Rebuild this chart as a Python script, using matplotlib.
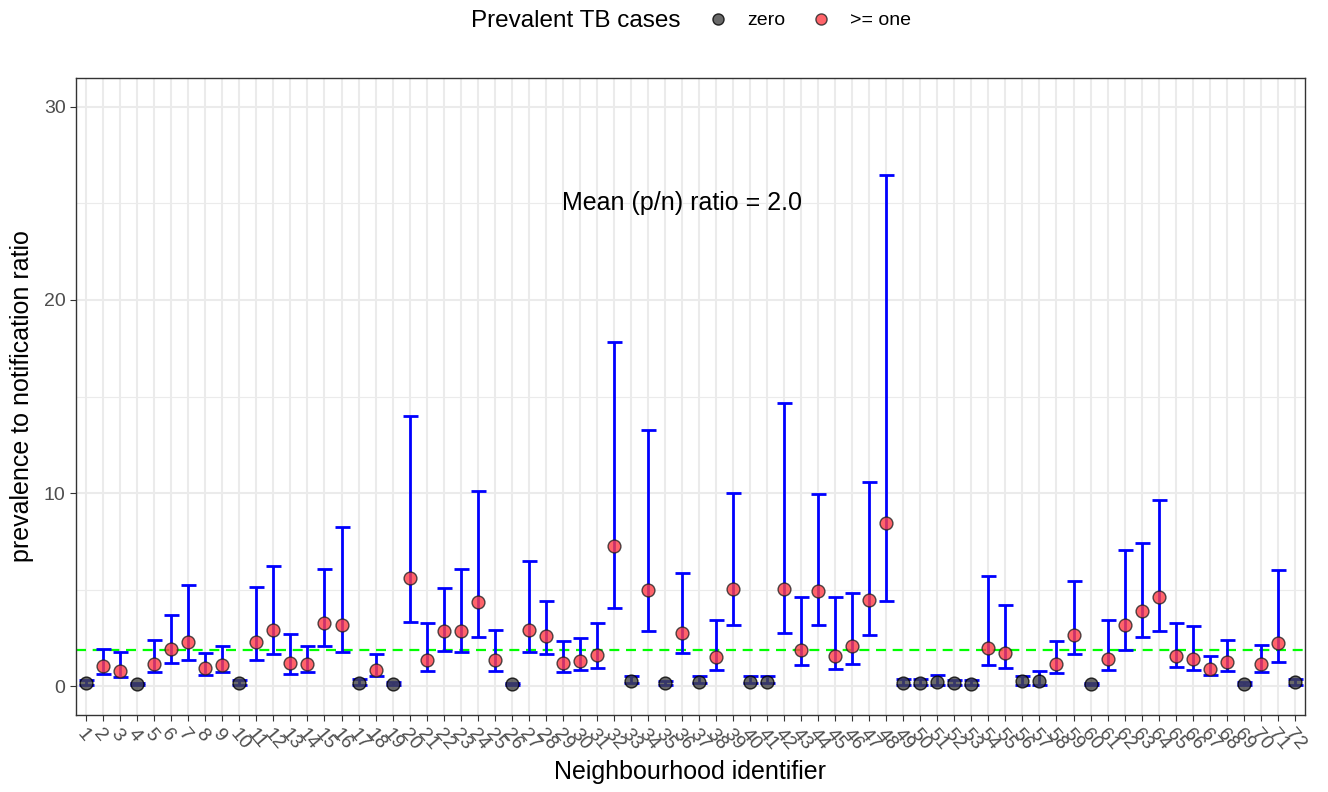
import numpy as np
import matplotlib.pyplot as plt
from matplotlib.lines import Line2D

plt.rcParams['font.family'] = ['Liberation Sans', 'DejaVu Sans']

# neighbourhood ids 1..72
ids = np.arange(1, 73)

# prevalence to notification ratio and its interval
ratio = [0.15, 1.02, 0.79, 0.10, 1.14, 1.91, 2.27, 0.91, 1.10, 0.15,
         2.27, 2.89, 1.17, 1.14, 3.25, 3.15, 0.15, 0.84, 0.10, 5.59,
         1.34, 2.86, 2.86, 4.36, 1.34, 0.12, 2.93, 2.58, 1.21, 1.29,
         1.62, 7.25, 0.24, 4.96, 0.15, 2.77, 0.21, 1.53, 5.05, 0.19,
         0.22, 5.01, 1.89, 4.94, 1.58, 2.07, 4.48, 8.47, 0.15, 0.15,
         0.22, 0.15, 0.12, 1.96, 1.69, 0.24, 0.28, 1.14, 2.65, 0.10,
         1.40, 3.17, 3.91, 4.60, 1.58, 1.40, 0.86, 1.26, 0.12, 1.12,
         2.22, 0.19]
lower = [0.05, 0.64, 0.46, 0.05, 0.71, 1.19, 1.34, 0.55, 0.71, 0.07,
         1.36, 1.67, 0.65, 0.74, 2.07, 1.77, 0.07, 0.50, 0.03, 3.34,
         0.79, 1.84, 1.76, 2.53, 0.78, 0.07, 1.79, 1.67, 0.74, 0.81,
         0.95, 4.05, 0.14, 2.86, 0.07, 1.71, 0.14, 0.84, 3.15, 0.14,
         0.14, 2.77, 1.10, 3.15, 0.88, 1.15, 2.65, 4.39, 0.05, 0.05,
         0.07, 0.07, 0.03, 1.09, 0.93, 0.07, 0.07, 0.69, 1.64, 0.03,
         0.81, 1.89, 2.52, 2.84, 0.98, 0.84, 0.55, 0.79, 0.05, 0.71,
         1.26, 0.07]
upper = [0.31, 1.91, 1.74, 0.15, 2.39, 3.67, 5.23, 1.69, 2.07, 0.30,
         5.13, 6.23, 2.70, 2.05, 6.06, 8.23, 0.38, 1.67, 0.20, 14.0,
         3.27, 5.09, 6.08, 10.1, 2.89, 0.17, 6.48, 4.39, 2.33, 2.50,
         3.29, 17.85, 0.52, 13.24, 0.28, 5.86, 0.50, 3.41, 9.99, 0.50,
         0.53, 14.64, 4.63, 9.97, 4.62, 4.81, 10.59, 26.5, 0.34, 0.34,
         0.57, 0.33, 0.29, 5.68, 4.19, 0.50, 0.76, 2.33, 5.46, 0.15,
         3.41, 7.06, 7.39, 9.66, 3.27, 3.10, 1.57, 2.39, 0.22, 2.14,
         6.01, 0.34]
# neighbourhoods with no prevalent case
zero_ids = [1, 4, 10, 17, 19, 26, 33, 35, 37, 40, 41, 49, 50, 51, 52, 53,
            56, 57, 60, 69, 72]
mean_line = 1.86

ratio = np.array(ratio)
lower = np.array(lower)
upper = np.array(upper)
is_zero = np.isin(ids, zero_ids)

fig = plt.figure(figsize=(13.28, 7.92), dpi=100)
ax = fig.add_axes([0.0572, 0.0972, 0.9255, 0.8043])

ax.set_xlim(0.4, 72.6)
ax.set_ylim(-1.5, 31.5)

ax.set_yticks([0, 10, 20, 30])
ax.set_yticks([5, 15, 25], minor=True)
ax.set_xticks(ids)
ax.set_xticks([], minor=True)
ax.grid(which='major', color='#ebebeb', lw=1.5, zorder=0)
ax.grid(which='minor', axis='y', color='#ebebeb', lw=0.8, zorder=0)
ax.set_axisbelow(True)

ax.axhline(mean_line, color='#00ff00', ls=(0, (4.5, 3)), lw=1.6, zorder=2)

# capsize is half the cap length in points
ax.errorbar(ids, ratio, yerr=[ratio - lower, upper - ratio], fmt='none',
            ecolor='blue', elinewidth=2, capsize=5.4, capthick=2, zorder=3)

ax.scatter(ids[is_zero], ratio[is_zero], s=85, c='#444444', alpha=0.8,
           edgecolors='black', linewidths=1, zorder=4)
ax.scatter(ids[~is_zero], ratio[~is_zero], s=85, c='#ff3d45', alpha=0.8,
           edgecolors='#222222', linewidths=1, zorder=4)

ax.text(36, 25, 'Mean (p/n) ratio = 2.0', ha='center', va='center', fontsize=18)

ax.set_xticklabels([str(i) for i in ids], rotation=-50, ha='left', va='top',
                   rotation_mode='anchor', fontsize=14, color='#4d4d4d')
ax.tick_params(axis='y', labelsize=14, labelcolor='#4d4d4d', color='#333333',
               length=4)
ax.tick_params(axis='x', color='#333333', length=4)
ax.tick_params(which='minor', length=0)
for sp in ax.spines.values():
    sp.set_color('#333333')
    sp.set_linewidth(1)

ax.set_xlabel('Neighbourhood identifier', fontsize=18, labelpad=5)
ax.set_ylabel('prevalence to notification ratio', fontsize=18, labelpad=7)

# legend across the top
fig.text(0.4335, 0.974, 'Prevalent TB cases', ha='center', va='center', fontsize=17.5)
handles = [Line2D([], [], ls='none', marker='o', ms=8, mfc='#444444', mec='black', alpha=0.8),
           Line2D([], [], ls='none', marker='o', ms=8, mfc='#ff3d45', mec='#222222', alpha=0.8)]
fig.legend(handles, ['zero', '>= one'], ncol=2, loc='center left',
           bbox_to_anchor=(0.519, 0.974), frameon=False, fontsize=14,
           handletextpad=0.9, columnspacing=1.2, handlelength=1.2)

fig.savefig('out.png', dpi=100)
